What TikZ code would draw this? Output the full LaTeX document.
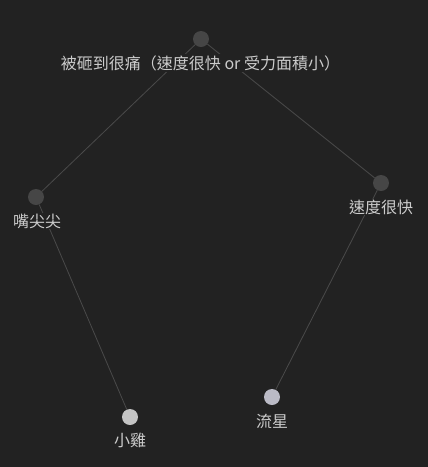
\documentclass[tikz,border=0pt]{standalone}
\usepackage{fontspec}
\newfontfamily\cjk{Noto Sans CJK TC}
\definecolor{bg}{HTML}{222222}
\definecolor{edgec}{HTML}{4A4A4A}
\definecolor{darkdot}{HTML}{464646}
\definecolor{lightdot}{HTML}{C4C4C4}
\definecolor{bluedot}{HTML}{BBBBC6}
\definecolor{txt}{HTML}{CCCCCC}
\tikzset{
  dot/.style={circle, inner sep=0pt, minimum size=16pt, fill=#1},
  lbl/.style={text=txt, font=\cjk\fontsize{16}{18}\selectfont, inner sep=1pt, fill=bg},
  edge/.style={draw=edgec, line width=0.8pt}
}
\begin{document}
\begin{tikzpicture}[x=1pt,y=-1pt]
\fill[bg] (0,0) rectangle (428,467);
\useasboundingbox (0,0) rectangle (428,467);
\node[dot=darkdot] (top) at (201,39) {};
\node[dot=darkdot] (left) at (36,197) {};
\node[dot=darkdot] (right) at (381,183) {};
\node[dot=lightdot] (chick) at (130,417) {};
\node[dot=bluedot] (meteor) at (272,397) {};
\draw[edge] (top) -- (left);
\draw[edge] (top) -- (right);
\draw[edge] (left) -- (chick);
\draw[edge] (right) -- (meteor);
\node[lbl] (ltop) at (200.5,63) {被砸到很痛（速度很快 or 受力面積小）};
\node[lbl] (lleft) at (37,221) {嘴尖尖};
\node[lbl] (lright) at (381,207) {速度很快};
\node[lbl] (lchick) at (130,440) {小雞};
\node[lbl] (lmeteor) at (272,421) {流星};
\end{tikzpicture}
\end{document}
